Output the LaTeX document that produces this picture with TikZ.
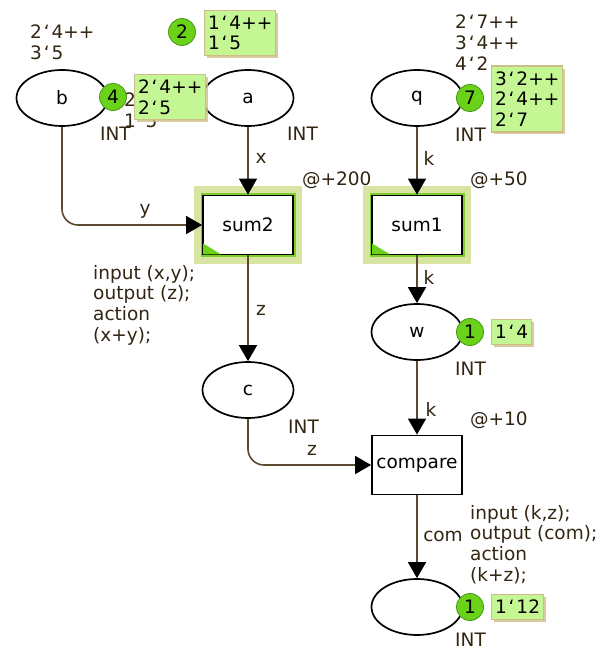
\documentclass[tikz,border=0pt]{standalone}
\usepackage{fontspec}
\setmainfont{DejaVu Sans}
\usetikzlibrary{arrows.meta,shapes.geometric,shadows}
\definecolor{arcc}{RGB}{90,75,48}
\definecolor{inscr}{RGB}{50,38,18}
\definecolor{halo}{RGB}{216,229,162}
\definecolor{haloin}{RGB}{125,205,45}
\definecolor{tokg}{RGB}{105,210,25}
\definecolor{tokd}{RGB}{70,150,20}
\definecolor{boxg}{RGB}{196,247,148}
\definecolor{boxb}{RGB}{205,190,135}
\newcommand\bq{\makebox[0.52em]{\char"60}}
\tikzset{
  every node/.style={font=\fontsize{18.5}{20.6}\selectfont},
  place/.style={ellipse,draw,line width=1.7pt,minimum width=91pt,minimum height=56pt,inner sep=0pt},
  trans/.style={rectangle,draw,line width=1.8pt,minimum width=90pt,minimum height=59pt,inner sep=0pt,fill=white},
  arc/.style={draw=arcc,line width=1.6pt,-{Triangle[length=16pt,width=18pt,color=black]}},
  insc/.style={text=inscr,inner sep=0pt},
  blk/.style={insc,anchor=north west,align=left},
  tok/.style={circle,fill=tokg,draw=tokd,line width=0.8pt,minimum size=27pt,inner sep=0pt},
  mbox/.style={draw=boxb,line width=1.2pt,fill=boxg,align=left,inner xsep=3.5pt,inner ysep=5.5pt,anchor=west,
     drop shadow={shadow xshift=2.5pt,shadow yshift=-2.5pt,fill=boxb,opacity=0.8}},
}
\begin{document}
\begin{tikzpicture}[x=1pt,y=-1pt]
\useasboundingbox[fill=white] (0,0) rectangle (603,650);
% hidden marking text of a (partly covered)
\node[blk] (amark) at (124,93) {2\bq4++\\1\bq5};
% places
\node[place] (b) at (62,98) {b};
\node[place] (a) at (248,98) {a};
\node[place] (q) at (417,98) {q};
\node[place] (w) at (417,332) {w};
\node[place] (c) at (248,390) {c};
\node[place] (p) at (417,607) {};
% transitions with halo
\foreach \cx in {248,417}{
  \fill[halo] (\cx-54,186) rectangle (\cx+54,264);
  \fill[haloin] (\cx-47.5,193) rectangle (\cx+47.5,257);
}
\node[trans] (sum2) at (248,225) {sum2};
\node[trans] (sum1) at (417,225) {sum1};
\node[trans] (cmp) at (417,465) {compare};
\fill[tokg] (sum2.south west) ++(1,-1) -- ++(0,-11) -- ++(18,11) -- cycle;
\fill[tokg] (sum1.south west) ++(1,-1) -- ++(0,-11) -- ++(18,11) -- cycle;
% arcs
\draw[arc,rounded corners=16pt] (b.south) |- (sum2.west);
\draw[arc] (a.south) -- (sum2.north);
\draw[arc] (q.south) -- (sum1.north);
\draw[arc] (sum2.south) -- (c.north);
\draw[arc] (sum1.south) -- (w.north);
\draw[arc] (w.south) -- (cmp.north);
\draw[arc,rounded corners=16pt] (c.south) |- (cmp.west);
\draw[arc] (cmp.south) -- (p.north);
% arc labels
\node[insc] (lx) at (261,158) {x};
\node[insc] (ly) at (145,211) {y};
\node[insc] (lk1) at (429,158) {k};
\node[insc] (lz1) at (261,310) {z};
\node[insc] (lk2) at (429,277) {k};
\node[insc] (lk3) at (431,409) {k};
\node[insc] (lz2) at (312,450) {z};
\node[insc] (lcom) at (443,536) {com};
% types
\node[blk] (tb) at (100,127) {INT};
\node[blk] (ta) at (287,127) {INT};
\node[blk] (tq) at (455,128) {INT};
\node[blk] (tw) at (455,362) {INT};
\node[blk] (tc) at (288,420) {INT};
\node[blk] (tp) at (455,633) {INT};
% initial markings
\node[blk] (bmark) at (30,25) {2\bq4++\\3\bq5};
\node[blk] (qmark) at (455,15) {2\bq7++\\3\bq4++\\4\bq2};
% times
\node[blk] (t1) at (302,172) {@+200};
\node[blk] (t2) at (470,172) {@+50};
\node[blk] (t3) at (470,412) {@+10};
% code segments
\node[blk] (code1) at (93,265) {input (x,y);\\output (z);\\action\\(x+y);};
\node[blk] (code2) at (470,505) {input (k,z);\\output (com);\\action\\(k+z);};
% tokens and markings
\node[tok] (k2) at (182,32) {2};
\node[mbox] (m2) at (204,33) {1\bq4++\\1\bq5};
\node[tok] (k4) at (113,97) {4};
\node[mbox] (m4) at (134,97) {2\bq4++\\2\bq5};
\node[tok] (k7) at (470,98) {7};
\node[mbox] (m7) at (491,99) {3\bq2++\\2\bq4++\\2\bq7};
\node[tok] (kw) at (470,332) {1};
\node[mbox] (mw) at (491,332) {1\bq4};
\node[tok] (kp) at (470,607) {1};
\node[mbox] (mp) at (491,607) {1\bq12};
\end{tikzpicture}
\end{document}
